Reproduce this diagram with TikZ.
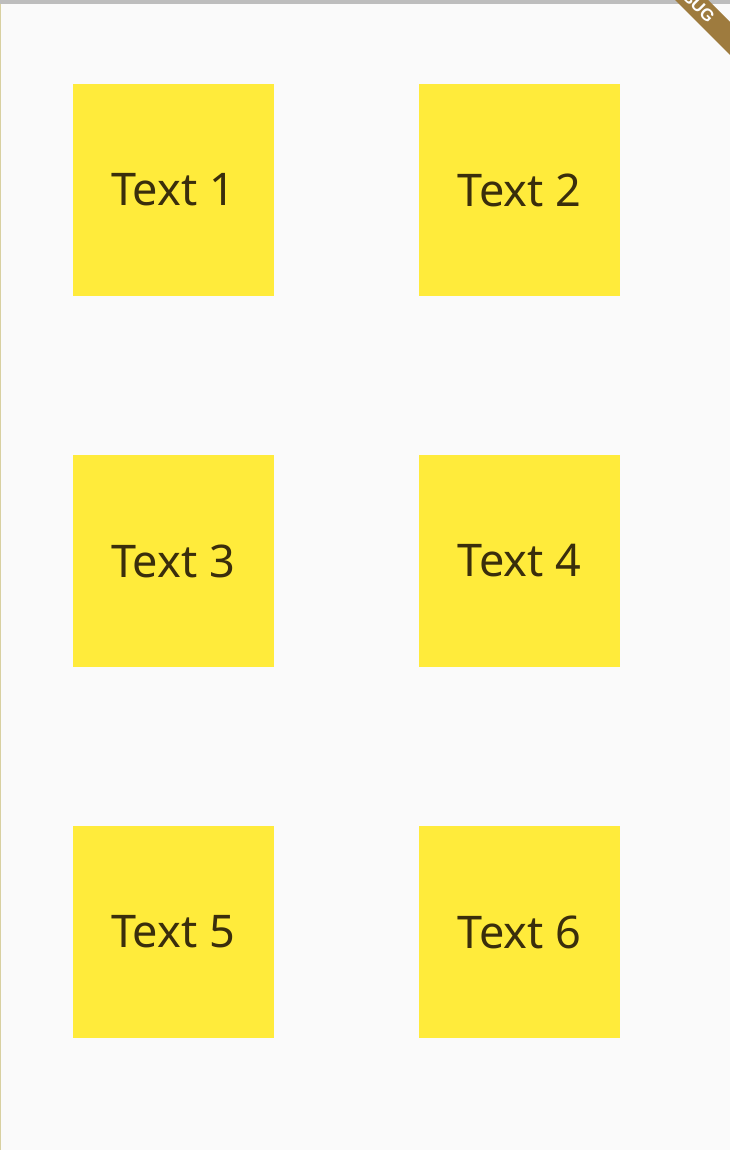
\documentclass[tikz,border=0pt]{standalone}
\usepackage{fontspec}
\setmainfont{Noto Sans}
\newfontfamily\bannerfont{Liberation Sans}
\definecolor{bg}{HTML}{FAFAFA}
\definecolor{topbar}{HTML}{BDBDBD}
\definecolor{card}{HTML}{FFEB3B}
\definecolor{ink}{HTML}{3A2E0C}
\definecolor{banner}{HTML}{9E7B3E}
\definecolor{edge}{HTML}{D8D0A0}
\begin{document}
\begin{tikzpicture}[x=1pt,y=-1pt,
  card/.style={fill=card, draw=none, minimum width=201pt, minimum height=212pt,
    inner sep=0pt, font=\fontsize{45}{52}\selectfont, text=ink}]
\useasboundingbox (0,0) rectangle (730,1150);
\fill[bg] (0,0) rectangle (730,1150);
\fill[topbar] (0,0) rectangle (730,4);
\draw[edge, line width=1pt] (0.5,4) -- (0.5,1150);
\node[card] (t1) at (173,190) {Text 1};
\node[card] (t2) at (519.5,190) {Text 2};
\node[card] (t3) at (173,561) {Text 3};
\node[card] (t4) at (519.5,561) {Text 4};
\node[card] (t5) at (173,932) {Text 5};
\node[card] (t6) at (519.5,932) {Text 6};
\begin{scope}
\clip (0,0) rectangle (730,1150);
\fill[banner] (675,0) -- (730,55) -- (730,22) -- (708,0) -- cycle;
\fill[banner] (640,-40) -- (675,0) -- (708,0) -- (680,-40) -- cycle;
\node[text=white, font=\bannerfont\bfseries\fontsize{17}{17}\selectfont, rotate=-45, anchor=east, inner sep=0pt]
  (dbg) at (712,20) {DEBUG};
\end{scope}
\end{tikzpicture}
\end{document}
